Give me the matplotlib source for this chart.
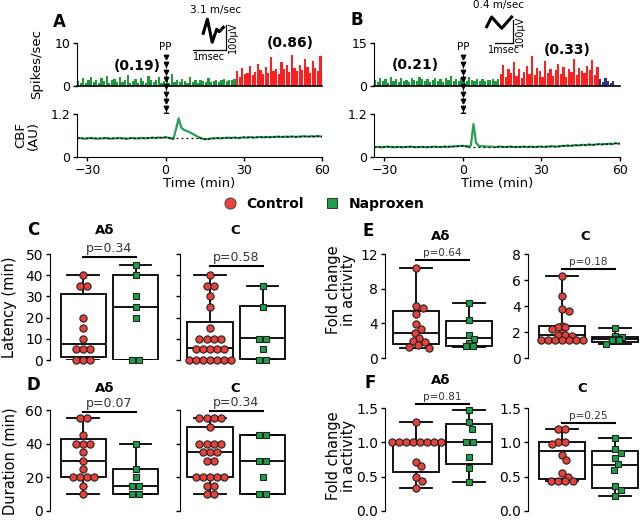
import numpy as np
import matplotlib
matplotlib.use("Agg")
import matplotlib.pyplot as plt
import matplotlib.transforms as mtrans
from matplotlib.lines import Line2D

# ---------------- data ----------------
# Spike histograms (1-min bins), panel A
spk_A_green_start = -34
spk_A_green = [1.2,0.8,1.9,0.6,1.4,2.1,0.9,1.5,0.7,1.8,
               1.1,2.4,0.8,1.3,1.7,0.9,2.2,1.0,1.4,2.6,
               0.7,1.2,1.6,0.8,1.9,1.1,0.6,2.3,1.3,0.9,
               1.5,2.0,0.8,1.2,1.7,0.7,2.8,1.0,1.4,0.9,
               1.6,1.1,0.8,2.1,1.0,1.3,0.7,1.5,1.2,0.9,
               1.8,1.0,1.1,1.4,0.9,1.3,1.6,1.2,1.5,1.4,
               1.7]
spk_A_red_start = 27
spk_A_red = [3.5,2.2,4.1,2.8,3.0,4.6,2.5,3.3,5.2,3.8,
             2.9,4.4,3.1,6.8,3.6,4.0,2.7,5.5,3.9,4.8,
             3.2,7.1,4.2,3.4,5.0,3.7,6.3,4.5,3.1,5.8,
             4.1,3.6,6.9]
# panel B
spk_B_green_start = -34
spk_B_green = [2.1,1.4,2.8,1.7,2.3,1.2,3.1,1.9,2.5,1.5,
               2.9,1.8,2.2,1.3,2.7,2.0,1.6,3.3,2.4,1.8,
               2.6,1.4,2.1,2.9,1.7,2.3,1.5,2.8,2.0,3.4,
               1.9,2.4,1.6,2.7,2.2,1.8,3.0,2.1,1.7,2.5,
               1.9,2.3,1.6,2.2,2.0,2.4,1.8,2.3]
spk_B_red_start = 14
spk_B_red = [4.2,7.5,3.1,5.8,4.6,8.2,3.5,6.1,2.8,5.0,
             7.1,4.3,10.6,3.9,6.4,5.2,3.3,8.8,4.7,6.0,
             3.6,5.5,7.8,4.1,6.6,3.2,5.9,4.8,9.4,3.8,
             6.3,5.1,4.4,7.0,5.6,8.9,3.9,6.8]
spk_B_blue_start = 52
spk_B_blue = [2.3,1.4,2.7,1.6,1.1,1.9]

# CBF traces, 1-min samples from -34 to 60 min
cbf_t_start, cbf_t_end = -34, 60
cbf_A = [0.52,0.53,0.52,0.51,0.52,0.53,0.52,0.52,0.51,0.52,0.52,0.53,0.52,0.51,0.52,0.52,0.53,
         0.52,0.52,0.51,0.52,0.53,0.52,0.52,0.52,0.53,0.52,0.53,0.53,0.54,0.53,0.54,0.54,0.54,
         0.55,0.54,0.52,0.50,0.78,1.08,0.82,0.76,0.73,0.70,0.66,0.62,0.58,0.54,0.51,0.50,
         0.50,0.51,0.52,0.52,0.53,0.52,0.53,0.53,0.54,0.53,0.54,0.54,0.53,0.54,0.55,0.54,0.55,
         0.55,0.54,0.55,0.56,0.55,0.55,0.56,0.55,0.56,0.56,0.57,0.56,0.56,0.57,0.56,0.57,0.57,
         0.56,0.57,0.57,0.58,0.57,0.57,0.58,0.57,0.58,0.58,0.57]
cbf_B = [0.27,0.28,0.28,0.27,0.28,0.29,0.28,0.28,0.27,0.28,0.28,0.27,0.28,0.28,0.29,0.28,0.27,
         0.28,0.28,0.28,0.27,0.28,0.28,0.29,0.28,0.28,0.28,0.29,0.28,0.29,0.29,0.30,0.30,0.31,
         0.31,0.30,0.29,0.32,0.92,0.40,0.31,0.30,0.30,0.29,0.29,
         0.29,0.28,0.28,0.29,0.28,0.28,0.28,0.29,0.28,0.28,0.28,0.28,0.29,0.28,0.28,0.29,0.28,
         0.28,0.29,0.29,0.28,0.29,0.29,0.30,0.29,0.29,0.30,0.31,0.31,0.32,0.31,0.32,0.33,0.32,
         0.33,0.34,0.33,0.35,0.34,0.34,0.35,0.36,0.35,0.36,0.36,0.37,0.36,0.38,0.38,0.37]
cbf_A_baseline = 0.52
cbf_B_baseline = 0.28
cbf_peak_window = (2, 13)

# spike waveforms (t in ms, v in uV)
wave_A_t = [0.32, 0.45, 0.60, 0.74, 0.82, 0.95]
wave_A_v = [67, 123, 31, 83, 73, 91]
wave_B_t = [-0.47, -0.19, 0.38, 0.94]
wave_B_v = [71, 113, 64, 113]

# Box panels: points and box stats [whislo, q1, med, q3, whishi]
C_ad_ctrl = [40, 35, 35, 20, 15, 10, 5, 5, 5, 0, 0, 0]
C_ad_napx = [45, 40, 30, 25, 20, 0, 0]
C_ad_ctrl_box = [0, 1.5, 7.5, 31.2, 40]
C_ad_napx_box = [0, 0, 25, 40, 45]
C_c_ctrl = [40, 35, 35, 30, 25, 15, 10, 10, 10, 10, 5, 5, 5, 5, 5, 0, 0, 0, 0, 0, 0, 0]
C_c_napx = [35, 25, 10, 10, 5, 0, 0]
C_c_ctrl_box = [0, 0.5, 5.7, 18.1, 40]
C_c_napx_box = [0, 0.5, 10.5, 25.5, 35]

D_ad_ctrl = [55, 55, 45, 40, 40, 40, 35, 30, 25, 20, 20, 20, 20, 15, 10]
D_ad_napx = [40, 25, 20, 15, 15, 10, 10]
D_ad_ctrl_box = [10, 20, 30, 42.5, 55]
D_ad_napx_box = [10, 10, 15, 25, 40]
D_c_ctrl = [55, 55, 55, 55, 50, 40, 40, 40, 40, 35, 35, 35, 30, 30,
            20, 20, 20, 20, 20, 15, 15, 10, 10]
D_c_napx = [45, 45, 30, 30, 20, 10, 10]
D_c_ctrl_box = [10, 20, 35, 50, 55]
D_c_napx_box = [10, 10, 30, 45, 45]

E_ad_ctrl = [10.4, 6.0, 5.8, 5.1, 3.9, 3.3, 2.9, 2.3, 2.0, 1.8, 1.5, 1.3, 1.2]
E_ad_napx = [6.4, 4.4, 2.7, 2.2, 1.7, 1.4, 1.4]
E_ad_ctrl_box = [1.2, 1.6, 2.9, 5.4, 10.4]
E_ad_napx_box = [1.3, 1.4, 2.3, 4.3, 6.4]
E_c_ctrl = [6.3, 4.8, 3.8, 3.6, 2.5, 2.4, 2.4, 2.2, 1.9, 1.8, 1.8, 1.7,
            1.4, 1.4, 1.4, 1.4, 1.4, 1.4, 1.4]
E_c_napx = [2.3, 1.7, 1.6, 1.5, 1.5, 1.4, 1.4, 1.05]
E_c_ctrl_box = [1.3, 1.45, 1.8, 2.5, 6.3]
E_c_napx_box = [1.05, 1.25, 1.45, 1.65, 2.3]

F_ad_ctrl = [1.3, 1.0, 1.0, 1.0, 1.0, 1.0, 1.0, 1.0, 1.0, 0.72, 0.65, 0.5, 0.44, 0.33]
F_ad_napx = [1.47, 1.29, 1.2, 1.0, 1.0, 0.79, 0.63, 0.42]
F_ad_ctrl_box = [0.33, 0.57, 0.98, 1.0, 1.3]
F_ad_napx_box = [0.42, 0.68, 1.0, 1.27, 1.47]
F_c_ctrl = [1.19, 1.19, 1.0, 1.0, 0.98, 0.82, 0.74, 0.55, 0.5, 0.43, 0.43, 0.43, 0.43]
F_c_napx = [1.06, 0.9, 0.84, 0.77, 0.68, 0.6, 0.36, 0.3, 0.22]
F_c_ctrl_box = [0.43, 0.47, 0.88, 1.0, 1.19]
F_c_napx_box = [0.22, 0.34, 0.675, 0.875, 1.06]

# p-values: (text, bar height)
p_C_ad = ("p=0.34", 48.5)
p_C_c = ("p=0.58", 44.3)
p_D_ad = ("p=0.07", 58.9)
p_D_c = ("p=0.34", 59.4)
p_E_ad = ("p=0.64", 11.3)
p_E_c = ("p=0.18", 6.85)
p_F_ad = ("p=0.81", 1.56)
p_F_c = ("p=0.25", 1.28)

# ---------------- styling ----------------
plt.rcParams["font.family"] = ["DejaVu Sans"]
RED = "#e8413c"
GREEN = "#1f9e4a"
SP_GREEN = "#1c9a3c"
SP_RED = "#ff1f1f"
SP_BLUE = "#2e3192"
CBF_GREEN = "#27a05a"

W, H = 640, 521
fig = plt.figure(figsize=(6.4, 5.21), dpi=100)


def px_axes(l, r, t, b):
    return fig.add_axes([l / W, 1 - b / H, (r - l) / W, (b - t) / H])


def ftext(x, y, s, **kw):
    kw.setdefault("ha", "center")
    kw.setdefault("va", "center")
    fig.text(x / W, 1 - y / H, s, **kw)


# ---------------- panels A and B ----------------
def spike_panel(ax, segs, ymax):
    for start, vals, col in segs:
        edges = np.arange(start, start + len(vals))
        ax.bar(edges, vals, width=0.85, align="edge", color=col, linewidth=0)
    ax.set_xlim(cbf_t_start, cbf_t_end)
    ax.set_ylim(0, ymax)
    ax.set_yticks([0, ymax])
    ax.set_xticks([])
    for s in ["top", "right"]:
        ax.spines[s].set_visible(False)
    ax.spines["bottom"].set_linewidth(1.2)
    ax.tick_params(axis="y", direction="out", length=3, width=1, labelsize=9, pad=2)


def cbf_panel(ax, vals, base):
    t = np.arange(cbf_t_start, cbf_t_end + 1)
    v = np.array(vals)
    mask = (t <= cbf_peak_window[0]) | (t >= cbf_peak_window[1])
    ax.plot(t, v, color=CBF_GREEN, lw=1.6, zorder=2)
    vb = np.where(mask, v, np.nan)
    ax.plot(t, vb, color="black", lw=0.9, ls=(0, (2, 1.5)), zorder=3)
    ax.plot([cbf_peak_window[0], cbf_peak_window[1]], [base, base],
            color="black", lw=0.9, ls=(0, (1.5, 2.5)), zorder=3)
    ax.set_xlim(cbf_t_start, cbf_t_end)
    ax.set_ylim(0, 1.2)
    ax.set_yticks([0, 1.2])
    ax.set_yticklabels(["0", "1.2"])
    ax.set_xticks([-30, 0, 30, 60])
    for s in ["top", "right"]:
        ax.spines[s].set_visible(False)
    ax.tick_params(direction="out", length=3, width=1, labelsize=9, pad=2)
    ax.set_xlabel("Time (min)", fontsize=9.5, labelpad=0)


axA1 = px_axes(77, 322, 43, 86)
spike_panel(axA1, [(spk_A_green_start, spk_A_green, SP_GREEN),
                   (spk_A_red_start, spk_A_red, SP_RED)], 10)
axA2 = px_axes(77, 322, 114, 157)
cbf_panel(axA2, cbf_A, cbf_A_baseline)

axB1 = px_axes(374, 620, 43, 86)
spike_panel(axB1, [(spk_B_green_start, spk_B_green, SP_GREEN),
                   (spk_B_red_start, spk_B_red, SP_RED),
                   (spk_B_blue_start, spk_B_blue, SP_BLUE)], 15)
axB2 = px_axes(374, 620, 114, 157)
cbf_panel(axB2, cbf_B, cbf_B_baseline)

# PP arrows
for ax, ybot in [(axA1, 130), (axB1, 142)]:
    tr = mtrans.blended_transform_factory(ax.transData, fig.transFigure)
    ys = np.arange(57, ybot, 7.3)
    yf = 1 - ys / H
    ax.plot([0] * len(ys), yf, transform=tr, ls="none", marker="v", ms=3.2,
            color="black", clip_on=False, zorder=5)
    ax.plot([0, 0], [yf[0], yf[-1]], transform=tr, ls=(0, (2, 2)), lw=0.8,
            color="black", clip_on=False, zorder=5)
    ax.text(0, 1 - 47 / H, "PP", transform=tr, ha="center", va="center", fontsize=7.5)

# labels
ftext(59, 22, "A", fontsize=12, fontweight="bold")
ftext(357, 20, "B", fontsize=12, fontweight="bold")
ftext(37, 64, "Spikes/sec", rotation=90, fontsize=9.5)
ftext(27, 135, "CBF\n(AU)", rotation=90, fontsize=9.5, linespacing=1.0)
ftext(137, 66, "(0.19)", fontsize=10, fontweight="bold")
ftext(290, 43, "(0.86)", fontsize=10, fontweight="bold")
ftext(415, 65, "(0.21)", fontsize=10, fontweight="bold")
ftext(567, 50, "(0.33)", fontsize=10, fontweight="bold")

# waveform insets
def wave_inset(x0, y0, px_per_ms, px_per_100uv, t_range, tv, vv, speed, txt_pos):
    tmin, tmax = t_range
    vmin, vmax = -40, 180
    l = x0 + tmin * px_per_ms
    r = x0 + tmax * px_per_ms
    t = y0 - vmax / 100 * px_per_100uv
    b = y0 - vmin / 100 * px_per_100uv
    ax = px_axes(l, r, t, b)
    ax.set_xlim(tmin, tmax)
    ax.set_ylim(vmin, vmax)
    ax.axis("off")
    ax.plot(tv, vv, color="black", lw=2.2, solid_joinstyle="round")
    ax.plot([0, 1], [0, 0], color="black", lw=0.9)
    ax.plot([1.02, 1.02], [0, 100], color="black", lw=0.9)
    ax.text(0.5, -7, "1msec", ha="center", va="top", fontsize=7)
    ax.text(1.1, 50, "100\u03bcV", ha="left", va="center", rotation=90, fontsize=7)
    ax.text(txt_pos[0], txt_pos[1], speed, ha="center", va="center", fontsize=7.5)
    return ax


wave_inset(193, 50, 32, 25, (-0.3, 1.5), wave_A_t, wave_A_v, "3.1 m/sec", (0.69, 158))
wave_inset(495, 43, 17.7, 23, (-0.7, 1.8), wave_B_t, wave_B_v, "0.4 m/sec", (0.17, 165))

# legend
handles = [Line2D([], [], marker="o", ls="", mfc=RED, mec="#444444", mew=0.7, ms=8, label="Control"),
           Line2D([], [], marker="s", ls="", mfc=GREEN, mec="#333333", mew=0.7, ms=7.5, label="Naproxen")]
fig.legend(handles=handles, loc="center", bbox_to_anchor=(320 / W, 1 - 204 / H), ncol=2,
           frameon=False, prop={"weight": "bold", "size": 10}, handletextpad=0.2,
           columnspacing=1.0, borderaxespad=0)


# ---------------- box panels ----------------
def swarm_offsets(values, px_per_y, d):
    vals = np.asarray(values, dtype=float)
    offs = np.zeros(len(vals))
    placed = []
    for u in sorted(set(vals.tolist()), reverse=True):
        idx = np.where(vals == u)[0]
        yp = u * px_per_y
        n = len(idx)
        if n > 1:
            xs = (np.arange(n) - (n - 1) / 2) * d
        else:
            cands = [0.0]
            for (px, py) in placed:
                dy = abs(py - yp)
                if dy < d:
                    dx = np.sqrt(d * d - dy * dy)
                    cands += [px + dx, px - dx]
            cands = sorted(cands, key=lambda c: abs(c))
            best = cands[0]
            for c in cands:
                ok = all((c - px) ** 2 + (yp - py) ** 2 >= d * d * 0.98 for px, py in placed)
                if ok:
                    best = c
                    break
            xs = [best]
        for i, x in zip(idx, xs):
            offs[i] = x
            placed.append((x, yp))
    return offs


def box_panel(ax, ctrl, napx, bctrl, bnapx, xlim, ylim, yticks, yticklabels, px_x,
              show_labels, ptxt, pfs):
    stats = []
    for b in (bctrl, bnapx):
        stats.append(dict(whislo=b[0], q1=b[1], med=b[2], q3=b[3], whishi=b[4], fliers=[]))
    ax.bxp(stats, positions=[1, 2], widths=0.86, capwidths=0.6, patch_artist=True,
           showfliers=False, manage_ticks=False,
           boxprops=dict(facecolor="white", edgecolor="black", linewidth=1.3),
           whiskerprops=dict(color="black", linewidth=1.3),
           capprops=dict(color="black", linewidth=1.3),
           medianprops=dict(color="black", linewidth=1.3))
    ax.set_xlim(*xlim)
    ax.set_ylim(*ylim)
    fig_h_px = ax.get_position().height * H
    px_per_y = fig_h_px / (ylim[1] - ylim[0])
    d = 7.0
    for pos, vals, mk, col, ms in [(1, ctrl, "o", RED, 5.2), (2, napx, "s", GREEN, 4.8)]:
        off = swarm_offsets(vals, px_per_y, d) / px_x
        ax.plot(pos + off, vals, ls="", marker=mk, ms=ms, mfc=col, mec="#222222",
                mew=0.8, zorder=4, clip_on=False)
    ax.set_yticks(yticks)
    ax.set_yticklabels(yticklabels)
    ax.set_xticks([])
    for s in ["top", "right", "bottom"]:
        ax.spines[s].set_visible(False)
    ax.tick_params(axis="y", direction="out", length=3, width=1, labelsize=10, pad=2,
                   labelleft=show_labels)
    txt, yb = ptxt
    ax.plot([1, 2], [yb, yb], color="black", lw=1.5, clip_on=False)
    ax.annotate(txt, xy=(1.5, yb), xytext=(0, 1.5), textcoords="offset points",
                ha="center", va="bottom", fontsize=pfs, color="#333333",
                annotation_clip=False)


C_xl_ad, C_xl_c = (0.37, 2.5), (0.43, 2.5)
axC1 = px_axes(50, 162, 254, 360)
box_panel(axC1, C_ad_ctrl, C_ad_napx, C_ad_ctrl_box, C_ad_napx_box, C_xl_ad, (0, 50),
          [0, 10, 20, 30, 40, 50], ["0", "10", "20", "30", "40", "50"], 52.5, True, p_C_ad, 9)
axC2 = px_axes(180, 289, 254, 360)
box_panel(axC2, C_c_ctrl, C_c_napx, C_c_ctrl_box, C_c_napx_box, C_xl_c, (0, 50),
          [0, 10, 20, 30, 40, 50], ["0", "10", "20", "30", "40", "50"], 52.5, False, p_C_c, 9)
axD1 = px_axes(50, 162, 410, 511)
box_panel(axD1, D_ad_ctrl, D_ad_napx, D_ad_ctrl_box, D_ad_napx_box, C_xl_ad, (0, 60),
          [0, 20, 40, 60], ["0", "20", "40", "60"], 52.5, True, p_D_ad, 9)
axD2 = px_axes(180, 289, 410, 511)
box_panel(axD2, D_c_ctrl, D_c_napx, D_c_ctrl_box, D_c_napx_box, C_xl_c, (0, 60),
          [0, 20, 40, 60], ["0", "20", "40", "60"], 52.5, False, p_D_c, 9)

E_xl_ad, E_xl_c = (0.415, 2.5), (0.36, 2.45)
axE1 = px_axes(385, 495.5, 254, 358)
box_panel(axE1, E_ad_ctrl, E_ad_napx, E_ad_ctrl_box, E_ad_napx_box, E_xl_ad, (0, 12),
          [0, 4, 8, 12], ["0", "4", "8", "12"], 53, True, p_E_ad, 7.5)
axE2 = px_axes(528, 639, 254, 358)
box_panel(axE2, E_c_ctrl, E_c_napx, E_c_ctrl_box, E_c_napx_box, E_xl_c, (0, 8),
          [0, 2, 4, 6, 8], ["0", "2", "4", "6", "8"], 53, True, p_E_c, 7.5)
axF1 = px_axes(385, 495.5, 408, 511)
box_panel(axF1, F_ad_ctrl, F_ad_napx, F_ad_ctrl_box, F_ad_napx_box, E_xl_ad, (0, 1.5),
          [0, 0.5, 1.0, 1.5], ["0.0", "0.5", "1.0", "1.5"], 53, True, p_F_ad, 7.5)
axF2 = px_axes(528, 639, 408, 511)
box_panel(axF2, F_c_ctrl, F_c_napx, F_c_ctrl_box, F_c_napx_box, E_xl_c, (0, 1.5),
          [0, 0.5, 1.0, 1.5], ["0.0", "0.5", "1.0", "1.5"], 53, True, p_F_c, 7.5)

# panel letters / titles
for (x, y, s) in [(33, 230, "C"), (33, 385, "D"), (368, 231, "E"), (370, 383, "F")]:
    ftext(x, y, s, fontsize=12, fontweight="bold")
for (x, y, s) in [(105, 231, "A\u03b4"), (235, 231, "C"), (105, 388, "A\u03b4"), (235, 388, "C"),
                  (441, 236, "A\u03b4"), (585, 237, "C"), (441, 380, "A\u03b4"), (582, 388, "C")]:
    ftext(x, y, s, fontsize=9.5, fontweight="bold")

ftext(10, 307, "Latency (min)", rotation=90, fontsize=10.5)
ftext(10, 461, "Duration (min)", rotation=90, fontsize=10.5)
ftext(341, 290, "Fold change\nin activity", rotation=90, fontsize=10.5, linespacing=0.95)
ftext(341, 456, "Fold change\nin activity", rotation=90, fontsize=10.5, linespacing=0.95)

fig.savefig("out.png", dpi=100)
